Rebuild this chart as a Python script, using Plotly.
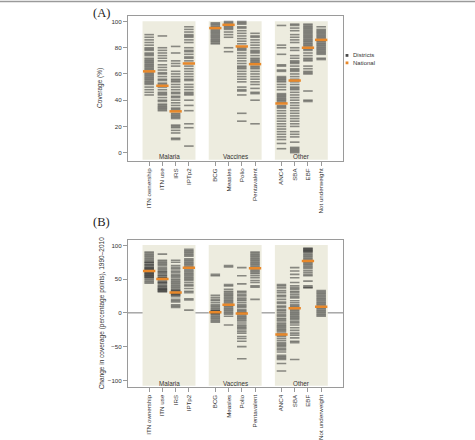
import plotly.graph_objects as go

# ---------------- data ----------------
categories = ["ITN ownership", "ITN use", "IRS", "IPTp2",
              "BCG", "Measles", "Polio", "Pentavalent",
              "ANC4", "SBA", "EBF", "Not underweight"]
groups = ["Malaria", "Vaccines", "Other"]
group_size = 4

# Panel A: coverage (%) by district
a_itn_own = [90, 88, 86, 84, 82, 80, 79, 78, 76, 75, 74, 72, 71, 70, 69, 68, 67, 66, 65, 64,
             63, 61, 60, 59, 58, 57, 56, 55, 54, 53, 52, 50, 48, 46, 44]
a_itn_use = [89, 80, 78, 76, 74, 72, 70, 67, 65, 63, 61, 60, 58, 56, 55, 53, 52, 50, 48, 46,
             45, 44, 42, 40, 39, 37, 36, 35, 34, 33, 32]
a_irs = [81, 76, 70, 68, 66, 62, 60, 58, 56, 55, 54, 52, 50, 48, 46, 45, 43, 42, 40, 38,
         36, 34, 33, 32, 30, 29, 28, 27, 26, 21, 20, 19, 17, 15, 11, 10]
a_iptp2 = [96, 94, 92, 90, 89, 88, 86, 84, 80, 78, 77, 75, 73, 72, 70, 68, 66, 64, 62, 60,
           58, 56, 55, 52, 50, 48, 46, 45, 44, 40, 36, 32, 22, 19, 5]
a_bcg = [99, 98, 97, 96, 95, 94, 93, 92, 91, 90, 89, 88, 87, 86, 85, 84, 83]
a_measles = [100, 99, 98, 97, 96, 95, 94, 92, 90, 88, 80, 77]
a_polio = [100, 99, 98, 96, 95, 93, 91, 89, 87, 85, 83, 80, 79, 78, 76, 74, 72, 70, 68, 66,
           65, 64, 62, 60, 58, 56, 54, 50, 48, 47, 44, 30, 24]
a_penta = [91, 89, 88, 86, 84, 82, 80, 78, 77, 76, 74, 72, 71, 70, 69, 68, 66, 65, 64, 62,
           60, 58, 56, 54, 52, 49, 46, 45, 40, 22]
a_anc4 = [97, 82, 80, 75, 67, 66, 63, 62, 58, 57, 56, 55, 54, 52, 50, 48, 45, 44, 43, 42,
          41, 40, 39, 38, 36, 35, 34, 32, 30, 28, 26, 24, 22, 20, 18, 16, 14, 12, 10, 7, 3]
a_sba = [98, 97, 95, 93, 90, 88, 86, 84, 80, 78, 74, 72, 70, 69, 68, 66, 64, 63, 62, 60,
         58, 56, 54, 52, 50, 49, 48, 46, 44, 42, 40, 38, 36, 34, 32, 30, 28, 26, 24, 22,
         20, 16, 14, 12, 8, 4, 3, 2, 1, 0]
a_ebf = [98, 97, 96, 95, 94, 93, 92, 91, 90, 89, 88, 87, 86, 85, 84, 83, 82, 81, 79, 78,
         76, 74, 72, 71, 70, 66, 64, 62, 61, 60, 47, 40, 39]
a_notuw = [96, 94, 93, 92, 91, 90, 89, 88, 87, 86, 85, 84, 83, 82, 81, 80, 79, 78, 77, 76,
           75, 72, 71]
a_national = [62, 51, 31.5, 68, 95, 97.5, 81, 67.5, 37.5, 55, 80, 86]

# Panel B: change in coverage (percentage points), 1990-2010
b_itn_own = [90, 88, 86, 84, 82, 80, 78, 76, 75, 74, 72, 71, 70, 68, 67, 66, 65, 64, 63,
             61, 60, 59, 58, 57, 56, 55, 54, 53, 52, 50, 48, 46, 44]
b_itn_use = [87, 78, 76, 74, 72, 70, 67, 65, 63, 61, 60, 58, 56, 55, 53, 52, 50, 48, 46,
             45, 44, 42, 40, 39, 37, 36, 35, 34, 33, 32, 31]
b_irs = [78, 75, 70, 67, 65, 62, 60, 57, 55, 53, 50, 48, 46, 44, 42, 40, 38, 36, 34, 33,
         32, 30, 29, 28, 27, 26, 24, 20, 18, 16, 12, 10, 8]
b_iptp2 = [94, 92, 90, 88, 86, 84, 80, 78, 76, 74, 72, 70, 68, 66, 64, 62, 60, 58, 56, 54,
           52, 50, 48, 45, 42, 40, 36, 32, 30, 21, 19, 4]
b_bcg = [57, 55, 26, 23, 20, 18, 15, 12, 10, 8, 6, 4, 3, 2, 1, 0, -1, -2, -4, -6, -8, -10,
         -12, -14]
b_measles = [70, 68, 42, 40, 35, 32, 30, 28, 26, 24, 22, 20, 18, 16, 14, 12, 10, 8, 6, 4,
             2, 0, -2, -5, -18]
b_polio = [67, 55, 43, 32, 30, 27, 25, 22, 20, 18, 15, 12, 10, 8, 5, 3, 1, 0, -2, -4, -6,
           -8, -10, -12, -15, -18, -20, -22, -24, -27, -30, -35, -38, -42, -50, -68]
b_penta = [90, 88, 86, 84, 82, 80, 78, 76, 74, 72, 70, 68, 66, 64, 62, 60, 58, 55, 52, 48,
           45, 40, 38, 20]
b_anc4 = [42, 40, 37, 33, 30, 26, 24, 20, 16, 14, 10, 8, 5, 3, 0, -3, -5, -8, -10, -12,
          -15, -17, -19, -21, -23, -25, -27, -30, -33, -35, -38, -41, -44, -46, -48, -50,
          -53, -55, -58, -63, -65, -67, -69, -75, -86]
b_sba = [67, 62, 57, 52, 45, 40, 37, 35, 32, 30, 27, 24, 22, 18, 15, 12, 10, 8, 6, 4, 2, 0,
         -2, -4, -6, -8, -10, -13, -15, -18, -22, -26, -30, -33, -37, -42, -44, -69]
b_ebf = [96, 95, 94, 93, 92, 91, 90, 88, 86, 84, 82, 80, 78, 76, 74, 72, 70, 68, 66, 63,
         60, 57, 55, 47, 40, 38, 37]
b_notuw = [33, 31, 29, 27, 25, 23, 21, 19, 17, 15, 13, 11, 9, 7, 5, 3, 1, -1, -3, -5]
b_national = [62, 50, 30, 67, 1, 12, -1, 66, -32, 7, 77, 9]

a_tick_vals = [0, 20, 40, 60, 80, 100]
b_tick_vals = [-100, -50, 0, 50, 100]

panel_a = [a_itn_own, a_itn_use, a_irs, a_iptp2, a_bcg, a_measles, a_polio, a_penta,
           a_anc4, a_sba, a_ebf, a_notuw]
panel_b = [b_itn_own, b_itn_use, b_irs, b_iptp2, b_bcg, b_measles, b_polio, b_penta,
           b_anc4, b_sba, b_ebf, b_notuw]

# ---------------- style ----------------
W, H = 475, 440
FONT = "Liberation Sans, Arial, sans-serif"
GRAY_DASH = "rgba(35,35,35,0.5)"
ORANGE = "#e8882a"
BEIGE = "#edecdf"
AXIS = "#9a9a9a"
TXT = "#333333"

# positions: 4 categories per group, one empty slot between groups
positions = [g * (group_size + 1) + i for g in range(len(groups)) for i in range(group_size)]


def px_x(p):
    return p / W


def px_y(p):
    return 1 - p / H


fig = go.Figure()

# line-ew symbol length is 1.4 * marker size
panels = [("x", "y", panel_a, a_national), ("x2", "y2", panel_b, b_national)]
for xa, ya, values, national in panels:
    for pos, vals in zip(positions, values):
        fig.add_trace(go.Scatter(
            x=[pos] * len(vals), y=vals, xaxis=xa, yaxis=ya, mode="markers",
            marker=dict(symbol="line-ew", size=6.8, line=dict(color=GRAY_DASH, width=1.6)),
            showlegend=False, hoverinfo="y"))
    fig.add_trace(go.Scatter(
        x=positions, y=national, xaxis=xa, yaxis=ya, mode="markers",
        marker=dict(symbol="line-ew", size=8.8, line=dict(color=ORANGE, width=2.5)),
        showlegend=False, hoverinfo="y"))

shapes = []
annotations = []
panel_cfg = [
    ("x", "y", -5.5, 100.3, -3.0),
    ("x2", "y2", -108, 100.5, -104),
]
for xa, ya, y0, y1, ylab in panel_cfg:
    for g, name in enumerate(groups):
        first = positions[g * group_size]
        last = positions[g * group_size + group_size - 1]
        shapes.append(dict(type="rect", xref=xa, yref=ya, x0=first - 0.5, x1=last + 0.5,
                           y0=y0, y1=y1, fillcolor=BEIGE, line=dict(width=0), layer="below"))
        annotations.append(dict(xref=xa, yref=ya, x=(first + last) / 2, y=ylab, text=name,
                                showarrow=False, font=dict(family=FONT, size=6.3, color=TXT),
                                yanchor="middle", xanchor="center"))

# zero line in panel B
shapes.append(dict(type="line", xref="x2 domain", yref="y2", x0=0, x1=1, y0=0, y1=0,
                   line=dict(color="#7a7a7a", width=1), layer="below"))
# thin rule at the top of the figure
shapes.append(dict(type="line", xref="paper", yref="paper", x0=0, x1=1,
                   y0=px_y(1.5), y1=px_y(1.5), line=dict(color="#9a9a9a", width=1.5)))

# legend (manual)
for i, (lab, col) in enumerate([("Districts", "#4a4a4a"), ("National", ORANGE)]):
    yc = 55.8 + i * 7.5
    shapes.append(dict(type="rect", xref="paper", yref="paper",
                       x0=px_x(345.6), x1=px_x(348.4), y0=px_y(yc + 1.4), y1=px_y(yc - 1.4),
                       fillcolor=col, line=dict(width=0)))
    annotations.append(dict(xref="paper", yref="paper", x=px_x(351), y=px_y(yc), text=lab,
                            showarrow=False, xanchor="left", yanchor="middle",
                            font=dict(family=FONT, size=6, color=TXT)))

# panel letters
for txt, yc in [("(A)", 13), ("(B)", 224)]:
    annotations.append(dict(xref="paper", yref="paper", x=px_x(101.5), y=px_y(yc), text=txt,
                            showarrow=False, xanchor="center", yanchor="middle",
                            font=dict(family="Liberation Serif, Times New Roman, serif",
                                      size=12.5, color="#222222")))

# axis titles
annotations.append(dict(xref="paper", yref="paper", x=px_x(100.5), y=px_y(89),
                        text="Coverage (%)", textangle=-90, showarrow=False,
                        xanchor="center", yanchor="middle",
                        font=dict(family=FONT, size=6.5, color=TXT)))
annotations.append(dict(xref="paper", yref="paper", x=px_x(101.5), y=px_y(315),
                        text="Change in coverage (percentage points), 1990\u20132010",
                        textangle=-90, showarrow=False, xanchor="center", yanchor="middle",
                        font=dict(family=FONT, size=6.5, color=TXT)))

xaxis_common = dict(range=[-1.6, 14.65], tickmode="array", tickvals=positions,
                    ticktext=categories, tickangle=-90, showline=True, mirror=True,
                    linecolor=AXIS, linewidth=1, ticks="outside", ticklen=4,
                    tickcolor=AXIS, showgrid=False, zeroline=False,
                    tickfont=dict(family=FONT, size=6.2, color=TXT))
yaxis_common = dict(showline=True, mirror=True, linecolor=AXIS, linewidth=1,
                    ticks="outside", ticklen=4, tickcolor=AXIS, showgrid=False,
                    zeroline=False, tickfont=dict(family=FONT, size=6.2, color=TXT))

fig.update_layout(
    width=W, height=H, autosize=False,
    margin=dict(l=0, r=0, t=0, b=0),
    paper_bgcolor="white", plot_bgcolor="white",
    showlegend=False,
    xaxis=dict(domain=[px_x(128), px_x(343)], anchor="y", **xaxis_common),
    yaxis=dict(domain=[px_y(162), px_y(16)], anchor="x", range=[-6.3, 104.3],
               tickvals=a_tick_vals, **yaxis_common),
    xaxis2=dict(domain=[px_x(128), px_x(343)], anchor="y2", **xaxis_common),
    yaxis2=dict(domain=[px_y(390), px_y(242)], anchor="x2", range=[-110.3, 107.4],
                tickvals=b_tick_vals, **yaxis_common),
    shapes=shapes,
    annotations=annotations,
)

fig.write_html("out.html")
